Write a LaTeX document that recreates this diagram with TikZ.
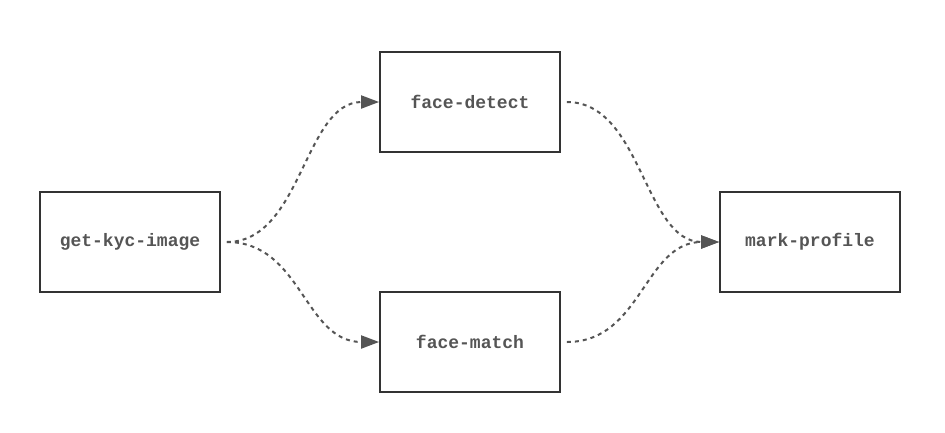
\documentclass[tikz,border=0pt]{standalone}
\usepackage{fontspec}
\setmonofont{Liberation Mono}
\usetikzlibrary{arrows.meta}
\definecolor{boxline}{HTML}{333333}
\definecolor{txt}{HTML}{555555}
\definecolor{edge}{HTML}{555555}
\begin{document}
\begin{tikzpicture}[x=1pt,y=-1pt,
  task/.style={draw=boxline,line width=1.8pt,minimum width=180pt,minimum height=100pt,inner sep=0pt,
    font=\ttfamily\bfseries\fontsize{18}{20}\selectfont,text=txt},
  flow/.style={draw=edge,line width=2pt,dash pattern=on 4pt off 4pt,
    -{Triangle[length=18pt,width=13pt]}}]
\useasboundingbox[fill=white] (0,0) rectangle (945,432);
\node[task] (g) at (130,242) {get-kyc-image};
\node[task] (d) at (470,102) {face-detect};
\node[task] (m) at (470,342) {face-match};
\node[task] (p) at (810,242) {mark-profile};
\coordinate (gs) at ([xshift=6pt]g.east);
\coordinate (ds) at ([xshift=6pt]d.east);
\coordinate (ms) at ([xshift=6pt]m.east);
\draw[flow] (gs) .. controls +(75,0) and +(-75,0) .. (d.west);
\draw[flow] (gs) .. controls +(75,0) and +(-75,0) .. (m.west);
\draw[flow] (ds) .. controls +(75,0) and +(-75,0) .. (p.west);
\draw[flow] (ms) .. controls +(75,0) and +(-75,0) .. (p.west);
\end{tikzpicture}
\end{document}
